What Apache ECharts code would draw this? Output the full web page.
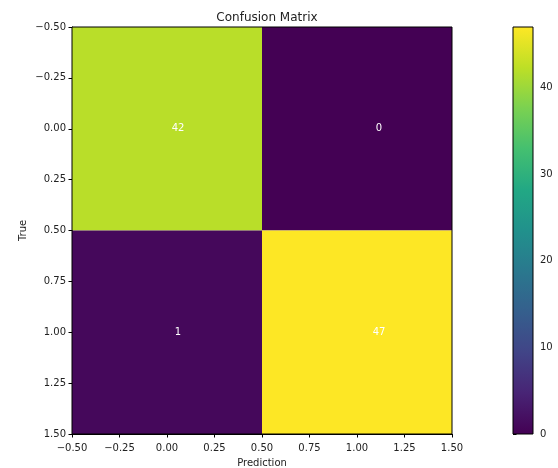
<!DOCTYPE html>
<html>
<head>
<meta charset="utf-8">
<script src="https://cdn.jsdelivr.net/npm/echarts@6/dist/echarts.min.js"></script>
<style>
html,body{margin:0;padding:0;background:#fff;}
#chart{width:558px;height:468px;}
</style>
</head>
<body>
<div id="chart"></div>
<script>
// ---- data ----
const trueClasses = [0, 1];
const predClasses = [0, 1];
const counts = [
  [42, 0],
  [1, 47]
];
const axisTicks = [-0.5, -0.25, 0, 0.25, 0.5, 0.75, 1, 1.25, 1.5];
const colorbarTicks = [0, 10, 20, 30, 40];
const colorMax = 47;
const titleText = 'Confusion Matrix';
const xName = 'Prediction';
const yName = 'True';
const viridis = ['#440154','#482475','#414487','#355f8d','#2a788e','#21918c',
                 '#22a884','#44bf70','#7ad151','#bddf26','#fde725'];

// ---- build ----
const cells = [];
trueClasses.forEach((t, i) => {
  predClasses.forEach((p, j) => {
    cells.push([p, t, counts[i][j]]);
  });
});

const FONT = 'DejaVu Sans';
const TXT = '#222';
const fmt = v => {
  const s = Math.abs(v).toFixed(2);
  return v < -1e-9 ? '\u2212' + s : s;
};

const chart = echarts.init(document.getElementById('chart'));
chart.setOption({
  animation: false,
  backgroundColor: '#fff',
  textStyle: { fontFamily: FONT },
  title: {
    text: titleText,
    left: 262, top: 7, textAlign: 'center',
    textStyle: { fontFamily: FONT, fontSize: 12, fontWeight: 'normal', color: TXT }
  },
  grid: [
    { left: 72, top: 27, width: 380, height: 407, show: true, borderColor: '#000', borderWidth: 1,
      backgroundColor: 'transparent', z: 5, containLabel: false, outerBoundsMode: 'none' },
    { left: 513, top: 27, width: 20, height: 407, show: true, borderColor: '#000', borderWidth: 1,
      backgroundColor: 'transparent', z: 5, containLabel: false, outerBoundsMode: 'none' }
  ],
  xAxis: [
    {
      type: 'value', gridIndex: 0,
      min: axisTicks[0], max: axisTicks[axisTicks.length - 1], interval: axisTicks[1] - axisTicks[0],
      name: xName, nameLocation: 'middle', nameGap: 24, nameMoveOverlap: false,
      nameTextStyle: { fontFamily: FONT, fontSize: 10, color: TXT },
      axisLine: { show: true, onZero: false, lineStyle: { color: '#000', width: 1 } },
      axisTick: { show: true, length: 3.5, lineStyle: { color: '#000' } },
      axisLabel: { formatter: fmt, fontFamily: FONT, fontSize: 10, color: TXT, margin: 9 },
      splitLine: { show: false }
    },
    {
      type: 'value', gridIndex: 1, min: 0, max: 1, show: false
    }
  ],
  yAxis: [
    {
      type: 'value', gridIndex: 0, inverse: true,
      min: axisTicks[0], max: axisTicks[axisTicks.length - 1], interval: axisTicks[1] - axisTicks[0],
      name: yName, nameLocation: 'middle', nameGap: 44, nameMoveOverlap: false,
      nameTextStyle: { fontFamily: FONT, fontSize: 10, color: TXT },
      axisLine: { show: true, onZero: false, lineStyle: { color: '#000', width: 1 } },
      axisTick: { show: true, length: 3.5, lineStyle: { color: '#000' } },
      axisLabel: { formatter: fmt, fontFamily: FONT, fontSize: 10, color: TXT, margin: 6 },
      splitLine: { show: false }
    },
    {
      type: 'value', gridIndex: 1, position: 'right',
      min: 0, max: colorMax, interval: colorbarTicks[1] - colorbarTicks[0],
      axisLine: { show: false },
      axisTick: { show: true, length: 3.5, lineStyle: { color: '#000' } },
      axisLabel: { fontFamily: FONT, fontSize: 10, color: TXT, margin: 7,
        formatter: v => colorbarTicks.indexOf(v) >= 0 ? String(v) : '' },
      splitLine: { show: false }
    }
  ],
  visualMap: {
    show: false, type: 'continuous', seriesIndex: 0, dimension: 2,
    min: 0, max: colorMax, inRange: { color: viridis }
  },
  series: [
    {
      type: 'custom', xAxisIndex: 0, yAxisIndex: 0, z: 1,
      data: cells,
      renderItem: (params, api) => {
        const x = api.value(0), y = api.value(1), v = api.value(2);
        const a = api.coord([x - 0.5, y - 0.5]);
        const b = api.coord([x + 0.5, y + 0.5]);
        const c = api.coord([x, y]);
        return {
          type: 'group',
          children: [
            {
              type: 'rect',
              shape: { x: Math.min(a[0], b[0]), y: Math.min(a[1], b[1]),
                       width: Math.abs(b[0] - a[0]), height: Math.abs(b[1] - a[1]) },
              style: { fill: api.visual('color'), stroke: null }
            },
            {
              type: 'text',
              style: {
                text: String(v), x: c[0] + 11 + 11 * x, y: c[1],
                textAlign: 'center', textVerticalAlign: 'middle',
                fill: '#fff', fontFamily: FONT, fontSize: 10
              }
            }
          ]
        };
      }
    },
    {
      type: 'custom', xAxisIndex: 1, yAxisIndex: 1, z: 1,
      data: [[0, colorMax]],
      renderItem: (params, api) => {
        const a = api.coord([0, 0]);
        const b = api.coord([1, api.value(1)]);
        return {
          type: 'rect',
          shape: { x: a[0], y: b[1], width: b[0] - a[0], height: a[1] - b[1] },
          style: {
            fill: {
              type: 'linear', x: 0, y: 1, x2: 0, y2: 0,
              colorStops: viridis.map((col, k) => ({ offset: k / (viridis.length - 1), color: col }))
            }
          }
        };
      }
    }
  ]
});
</script>
</body>
</html>
